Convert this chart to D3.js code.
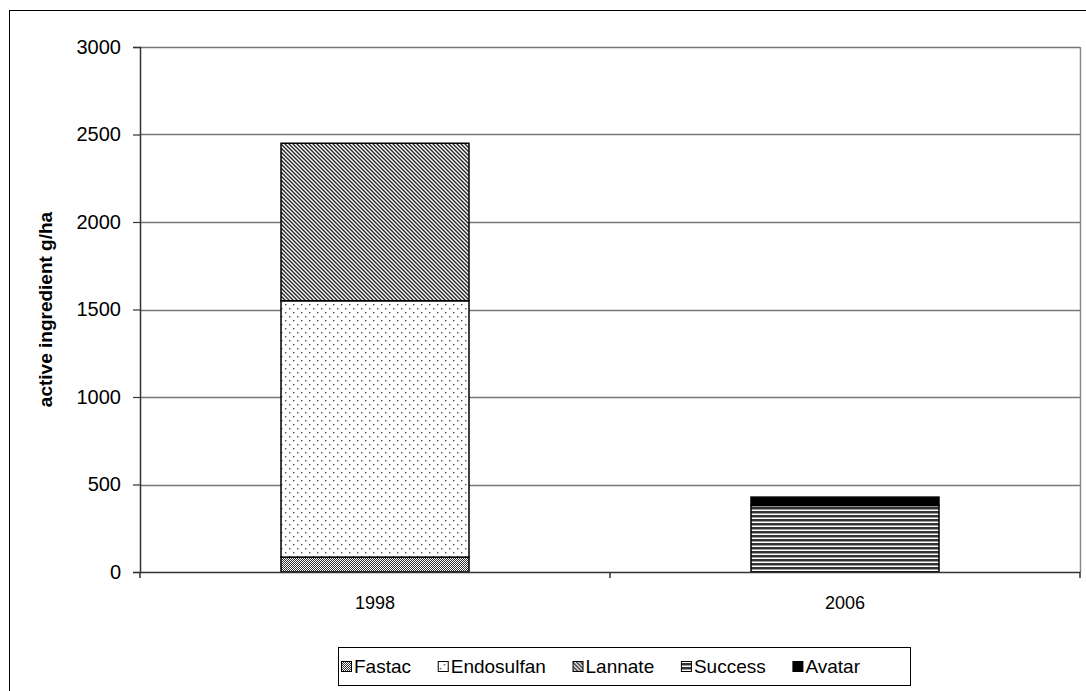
<!DOCTYPE html>
<html>
<head>
<meta charset="utf-8">
<script src="https://cdn.jsdelivr.net/npm/d3@7"></script>
<style>
  body { margin: 0; background: #fff; }
  text { font-family: Arial, "Liberation Sans", sans-serif; }
</style>
</head>
<body>
<svg id="chart"></svg>
<script>
var W = 1086, H = 691;
var margin = {top: 47, right: 6, bottom: 119, left: 140},
    width = W - margin.left - margin.right,
    height = H - margin.top - margin.bottom;

// data
var years = ["1998", "2006"];
var series = ["Fastac", "Endosulfan", "Lannate", "Success", "Avatar"];
var fastac = [85, 0];
var endosulfan = [1465, 0];
var lannate = [900, 0];
var success = [0, 380];
var avatar = [0, 48];
var yTicks = [0, 500, 1000, 1500, 2000, 2500, 3000];

var rows = years.map(function(y, i) {
  return {year: y, Fastac: fastac[i], Endosulfan: endosulfan[i], Lannate: lannate[i],
          Success: success[i], Avatar: avatar[i]};
});

var svg = d3.select("#chart").attr("width", W).attr("height", H);
var defs = svg.append("defs");

// patterns
var p = defs.append("pattern").attr("id", "pat-Fastac").attr("patternUnits", "userSpaceOnUse")
  .attr("width", 2).attr("height", 2);
p.append("rect").attr("width", 2).attr("height", 2).attr("fill", "#fff");
p.append("rect").attr("width", 1).attr("height", 1).attr("fill", "#333");
p.append("rect").attr("x", 1).attr("y", 1).attr("width", 1).attr("height", 1).attr("fill", "#333");

p = defs.append("pattern").attr("id", "pat-Endosulfan").attr("patternUnits", "userSpaceOnUse")
  .attr("width", 8).attr("height", 8);
p.append("rect").attr("width", 8).attr("height", 8).attr("fill", "#fff");
p.append("rect").attr("x", 1).attr("y", 1).attr("width", 1.4).attr("height", 1.4).attr("fill", "#555");
p.append("rect").attr("x", 5).attr("y", 5).attr("width", 1.4).attr("height", 1.4).attr("fill", "#555");

p = defs.append("pattern").attr("id", "pat-Lannate").attr("patternUnits", "userSpaceOnUse")
  .attr("width", 4).attr("height", 4);
p.append("rect").attr("width", 4).attr("height", 4).attr("fill", "#fff");
p.append("path").attr("d", "M0,0 L4,4 M-1,3 L1,5 M3,-1 L5,1")
  .attr("stroke", "#222").attr("stroke-width", 1.4);

p = defs.append("pattern").attr("id", "pat-Success").attr("patternUnits", "userSpaceOnUse")
  .attr("width", 8).attr("height", 4);
p.append("rect").attr("width", 8).attr("height", 4).attr("fill", "#fff");
p.append("rect").attr("y", 0).attr("width", 8).attr("height", 2).attr("fill", "#333");
p.append("rect").attr("y", 2).attr("width", 8).attr("height", 1).attr("fill", "#999");

var fills = {Fastac: "url(#pat-Fastac)", Endosulfan: "url(#pat-Endosulfan)",
             Lannate: "url(#pat-Lannate)", Success: "url(#pat-Success)", Avatar: "#000"};

// outer frame
svg.append("rect").attr("x", 9.5).attr("y", 10.5).attr("width", 1090).attr("height", 690)
  .attr("fill", "none").attr("stroke", "#000").attr("stroke-width", 1);

var g = svg.append("g").attr("transform", "translate(" + margin.left + "," + margin.top + ")");

var x = d3.scaleBand().domain(years).range([0, width]).paddingInner(0.6).paddingOuter(0.3);
var y = d3.scaleLinear().domain([0, 3000]).range([height, 0]);

// gridlines
g.selectAll(".grid").data(yTicks.slice(1)).enter().append("line")
  .attr("class", "grid")
  .attr("x1", 0).attr("x2", width)
  .attr("y1", function(d) { return Math.round(y(d)) + 0.5; })
  .attr("y2", function(d) { return Math.round(y(d)) + 0.5; })
  .attr("stroke", "#777").attr("stroke-width", 1.3);

// plot area right border
g.append("line").attr("x1", width + 0.5).attr("x2", width + 0.5).attr("y1", 0).attr("y2", height)
  .attr("stroke", "#888").attr("stroke-width", 1.5);

// stacked bars
var stack = d3.stack().keys(series)(rows);
g.selectAll(".layer").data(stack).enter().append("g")
  .attr("class", "layer")
  .selectAll("rect").data(function(d) { return d.map(function(v) { v.key = d.key; return v; }); })
  .enter().append("rect")
  .filter(function(d) { return d[1] - d[0] > 0; })
  .attr("x", function(d) { return x(d.data.year); })
  .attr("width", x.bandwidth())
  .attr("y", function(d) { return y(d[1]); })
  .attr("height", function(d) { return y(d[0]) - y(d[1]); })
  .attr("fill", function(d) { return fills[d.key]; })
  .attr("stroke", "#000").attr("stroke-width", 1.5);

// y axis
var yAxis = g.append("g").call(d3.axisLeft(y).tickValues(yTicks).tickFormat(d3.format("d"))
  .tickSize(7).tickPadding(12));
yAxis.select(".domain").attr("stroke", "#333").attr("stroke-width", 1.5);
yAxis.selectAll(".tick line").attr("stroke", "#333").attr("stroke-width", 1.2);
yAxis.selectAll("text").style("font-size", "20px").attr("fill", "#000");

// x axis
var xAxis = g.append("g").attr("transform", "translate(0," + height + ")")
  .call(d3.axisBottom(x).tickSize(0).tickPadding(24));
xAxis.select(".domain").attr("stroke", "#333").attr("stroke-width", 1.5);
xAxis.selectAll("text").style("font-size", "18px").attr("fill", "#000");
g.selectAll(".xtick").data([0, width / 2, width]).enter().append("line")
  .attr("class", "xtick")
  .attr("x1", function(d) { return d; }).attr("x2", function(d) { return d; })
  .attr("y1", height).attr("y2", height + 6)
  .attr("stroke", "#333").attr("stroke-width", 1.5);

// y title
svg.append("text")
  .attr("transform", "translate(52," + (margin.top + height / 2) + ") rotate(-90)")
  .attr("text-anchor", "middle")
  .style("font-size", "19px").style("font-weight", "bold")
  .text("active ingredient g/ha");

// legend
var lg = svg.append("g").attr("transform", "translate(338,647)");
lg.append("rect").attr("x", 0.5).attr("y", 0.5).attr("width", 572).attr("height", 38)
  .attr("fill", "#fff").attr("stroke", "#000");
var items = lg.selectAll(".item").data(series).enter().append("g");
items.append("rect").attr("x", 3.5).attr("y", 14.5).attr("width", 10).attr("height", 10)
  .attr("fill", function(d) { return fills[d]; }).attr("stroke", "#000").attr("stroke-width", 1);
items.append("text").attr("x", 16).attr("y", 26)
  .style("font-size", "19px").text(function(d) { return d; });
// spread items so the last label ends near the right of the box
var lens = [];
items.select("text").each(function() { lens.push(this.getComputedTextLength()); });
var used = d3.sum(lens) + lens.length * 16;
var gap = (522 - used) / (lens.length - 1);
var pos = 0;
items.attr("transform", function(d, i) {
  var t = "translate(" + pos + ",0)";
  pos += 16 + lens[i] + gap;
  return t;
});
</script>
</body>
</html>
